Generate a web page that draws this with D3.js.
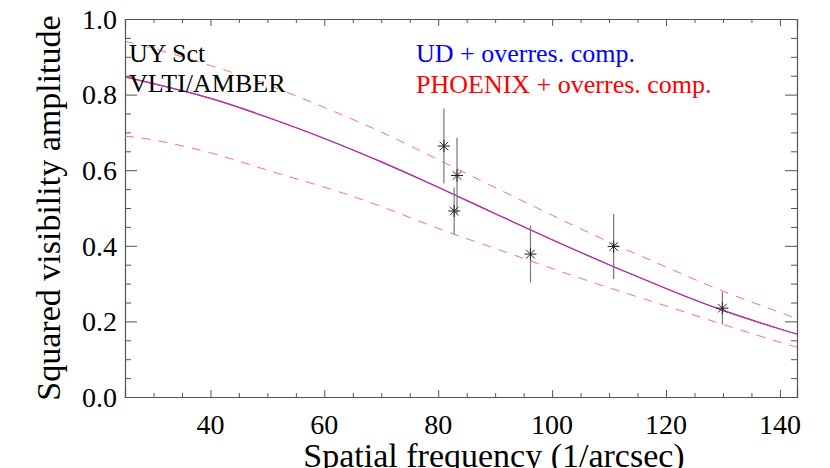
<!DOCTYPE html>
<meta charset="utf-8">
<style>
    body { margin: 0; background: #fff; }
    .axis path, .axis line { stroke: #555; }
</style>
<svg width="830" height="468"></svg>
<script src="https://cdn.jsdelivr.net/npm/d3@7"></script>
<script>
    // model curves (spatial frequency in 1/arcsec)
    var modelFreq   = [25, 30, 40, 50, 60, 70, 80, 90, 100, 110, 120, 130, 140, 143];
    var udV2        = [0.847, 0.829, 0.790, 0.740, 0.684, 0.622, 0.555, 0.485, 0.416, 0.350, 0.287, 0.229, 0.180, 0.167];
    var phoenixV2   = [0.847, 0.829, 0.790, 0.740, 0.684, 0.622, 0.555, 0.485, 0.416, 0.350, 0.287, 0.229, 0.180, 0.167];
    var upperV2     = [0.941, 0.922, 0.877, 0.826, 0.766, 0.701, 0.628, 0.554, 0.481, 0.410, 0.344, 0.280, 0.224, 0.206];
    var lowerV2     = [0.690, 0.680, 0.646, 0.600, 0.555, 0.504, 0.446, 0.393, 0.340, 0.289, 0.241, 0.192, 0.145, 0.132];

    // AMBER measurements
    var obsFreq = [81.0, 83.3, 82.8, 96.2, 110.8, 129.9];
    var obsV2   = [0.664, 0.586, 0.492, 0.378, 0.398, 0.235];
    var obsErr  = [0.099, 0.100, 0.062, 0.075, 0.086, 0.043];

    var xMajor = [40, 60, 80, 100, 120, 140];
    var yMajor = [0.0, 0.2, 0.4, 0.6, 0.8, 1.0];

    var serif = "Liberation Serif";

    var svg = d3.select("svg"),
        margin = {top: 19, right: 33, bottom: 71, left: 125},
        width = +svg.attr("width") - margin.left - margin.right,
        height = +svg.attr("height") - margin.top - margin.bottom;

    var x = d3.scaleLinear().domain([25, 143]).range([0, width]),
        y = d3.scaleLinear().domain([0, 1]).range([height, 0]);

    var g = svg.append("g")
        .attr("transform", "translate(" + margin.left + "," + margin.top + ")");

    var xMinor = d3.range(25, 143.01, 5).filter(function(d) { return xMajor.indexOf(d) < 0; }),
        yMinor = d3.range(0, 1.001, 0.05).filter(function(d) { return d3.min(yMajor, function(m) { return Math.abs(m - d); }) > 1e-6; });

    function ticks(axis, vals, len) {
        return axis.tickValues(vals).tickSize(-len).tickFormat("");
    }

    // bottom + top
    [[height, d3.axisBottom], [0, d3.axisTop]].forEach(function(a) {
        var ax = g.append("g").attr("class", "axis").attr("transform", "translate(0," + a[0] + ")");
        ax.call(ticks(a[1](x), xMajor, 7));
        ax.append("g").call(ticks(a[1](x), xMinor, 4)).select(".domain").remove();
    });
    // left + right
    [[0, d3.axisLeft], [width, d3.axisRight]].forEach(function(a) {
        var ax = g.append("g").attr("class", "axis").attr("transform", "translate(" + a[0] + ",0)");
        ax.call(ticks(a[1](y), yMajor, 12));
        ax.append("g").call(ticks(a[1](y), yMinor, 6)).select(".domain").remove();
    });
    g.selectAll(".axis path.domain").attr("stroke-width", 1.2);

    function label(sel, size) {
        return sel.style("font-family", serif).style("font-size", size + "px");
    }

    // tick labels
    label(g.selectAll(".xlab").data(xMajor).enter().append("text")
        .attr("x", function(d) { return x(d); })
        .attr("y", height + 37)
        .attr("text-anchor", "middle"), 28)
        .text(function(d) { return d; });

    label(g.selectAll(".ylab").data(yMajor).enter().append("text")
        .attr("x", -8)
        .attr("y", function(d) { return y(d); })
        .attr("dy", "0.35em")
        .attr("text-anchor", "end"), 28)
        .text(d3.format(".1f"));

    // axis titles (the x title runs off the bottom edge in the original)
    label(svg.append("text")
        .attr("x", 494).attr("y", 467)
        .attr("text-anchor", "middle"), 34)
        .text("Spatial frequency (1/arcsec)");

    label(svg.append("text")
        .attr("transform", "translate(60," + (margin.top + height / 2) + ") rotate(-90)")
        .attr("text-anchor", "middle"), 34)
        .text("Squared visibility amplitude");

    // model curves
    var line = function(vals) {
        return d3.line()
            .x(function(d, i) { return x(modelFreq[i]); })
            .y(function(d) { return y(d); })
            .curve(d3.curveNatural)(vals);
    };

    g.append("defs").append("clipPath").attr("id", "clip")
        .append("rect").attr("width", width).attr("height", height);

    var curves = g.append("g").attr("clip-path", "url(#clip)");

    [upperV2, lowerV2].forEach(function(vals) {
        curves.append("path")
            .attr("d", line(vals))
            .attr("fill", "none")
            .attr("stroke", "#ff6f6f")
            .attr("stroke-width", 1)
            .attr("stroke-dasharray", "9,8");
    });

    curves.append("path")
        .attr("d", line(udV2))
        .attr("fill", "none")
        .attr("stroke", "#3030ff")
        .attr("stroke-width", 1.2);

    curves.append("path")
        .attr("d", line(phoenixV2))
        .attr("fill", "none")
        .attr("stroke", "#ff2a6a")
        .attr("stroke-opacity", 0.75)
        .attr("stroke-width", 1.2);

    // data points with error bars
    var pts = g.selectAll(".pt").data(obsFreq).enter().append("g")
        .attr("transform", function(d, i) { return "translate(" + x(d) + "," + y(obsV2[i]) + ")"; });

    pts.append("line")
        .attr("y1", function(d, i) { return y(obsV2[i] - obsErr[i]) - y(obsV2[i]); })
        .attr("y2", function(d, i) { return y(obsV2[i] + obsErr[i]) - y(obsV2[i]); })
        .attr("stroke", "#777")
        .attr("stroke-width", 1.2);

    pts.append("path")
        .attr("d", "M-6,0H6M0,-6V6M-4.3,-4.3L4.3,4.3M-4.3,4.3L4.3,-4.3")
        .attr("fill", "none")
        .attr("stroke", "#222")
        .attr("stroke-width", 1);

    // labels
    label(svg.append("text").attr("x", 129).attr("y", 62), 26).text("UY Sct");
    label(svg.append("text").attr("x", 129).attr("y", 92), 26).text("VLTI/AMBER");
    label(svg.append("text").attr("x", 416).attr("y", 62).attr("fill", "#0000ff"), 26).text("UD + overres. comp.");
    label(svg.append("text").attr("x", 416).attr("y", 93).attr("fill", "#ff0000"), 26).text("PHOENIX + overres. comp.");
</script>
